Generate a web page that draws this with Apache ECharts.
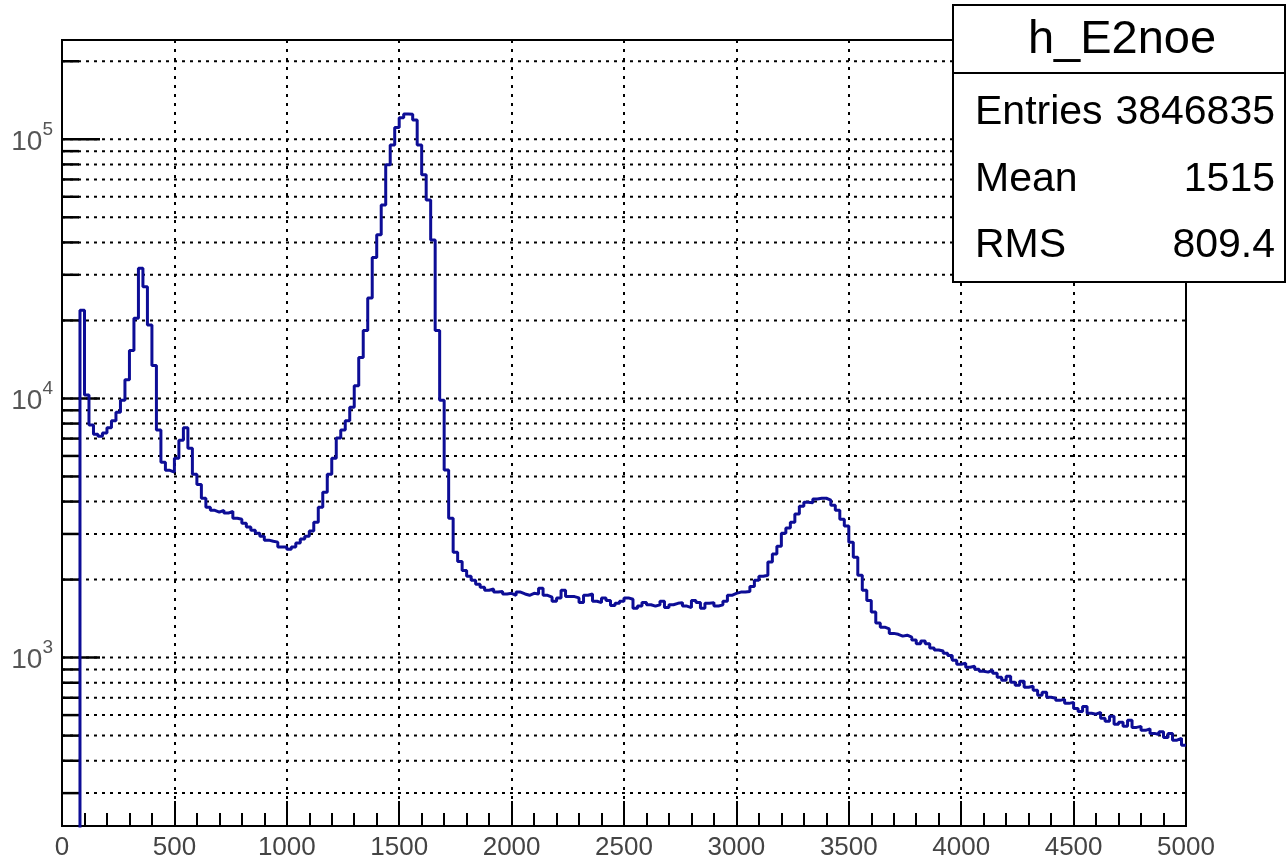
<!DOCTYPE html>
<html>
<head>
<meta charset="utf-8">
<title>h_E2noe</title>
<script src="https://cdn.jsdelivr.net/npm/echarts@6/dist/echarts.min.js"></script>
<style>
  html, body { margin: 0; padding: 0; background: #fff; }
  #chart { width: 1286px; height: 861px; }
</style>
</head>
<body>
<div id="chart"></div>
<script>
// histogram h_E2noe: 250 bins of width 20 from 0 to 5000 (counts per bin)
const BIN_WIDTH = 20;
const counts = [
  0, 0, 0, 0, 21900, 10300, 7900, 7280, 7150, 7350,
  7700, 8200, 8850, 9850, 11800, 15300, 20400, 31800, 27000, 19200,
  13400, 7550, 5670, 5280, 5200, 5880, 6900, 7700, 6430, 5100,
  4660, 4120, 3800, 3700, 3640, 3700, 3610, 3670, 3450, 3420,
  3300, 3190, 3100, 3020, 2940, 2840, 2810, 2790, 2670, 2670,
  2620, 2670, 2770, 2870, 2940, 3080, 3330, 3800, 4350, 5100,
  5880, 7030, 7550, 8200, 9240, 11200, 14400, 18300, 24400, 35000,
  42800, 55800, 79700, 95000, 111000, 121000, 125300, 125000, 118700, 95000,
  72900, 58300, 40900, 18300, 9850, 5300, 3450, 2550, 2350, 2170,
  2060, 1990, 1920, 1870, 1820, 1840, 1790, 1800, 1760, 1770,
  1740, 1790, 1760, 1740, 1770, 1760, 1850, 1740, 1710, 1650,
  1700, 1820, 1720, 1720, 1700, 1630, 1740, 1760, 1650, 1630,
  1700, 1660, 1590, 1620, 1650, 1700, 1680, 1550, 1580, 1630,
  1600, 1580, 1600, 1650, 1560, 1600, 1620, 1630, 1580, 1560,
  1660, 1630, 1550, 1620, 1630, 1580, 1600, 1650, 1740, 1770,
  1790, 1790, 1800, 1880, 1990, 2060, 2080, 2340, 2510, 2690,
  3020, 3160, 3330, 3580, 3840, 3980, 3960, 4090, 4120, 4120,
  4050, 3870, 3700, 3420, 3220, 2790, 2440, 2080, 1820, 1660,
  1500, 1360, 1310, 1290, 1240, 1230, 1210, 1220, 1200, 1170,
  1130, 1160, 1130, 1090, 1070, 1060, 1040, 1020, 976, 943,
  951, 918, 926, 902, 886, 879, 894, 871, 840, 818,
  848, 803, 782, 810, 768, 775, 748, 716, 735, 703,
  697, 684, 690, 666, 672, 636, 620, 648, 610, 605,
  615, 583, 568, 594, 553, 563, 543, 573, 538, 543,
  524, 531, 510, 505, 517, 492, 510, 480, 488, 459
];

// log y axis: major ticks (labelled) and minor ticks (2..9 x 10^n) with dotted grid
const yMajorTicks = [1000, 10000, 100000];
const yMinorTicks = [
  300, 400, 500, 600, 700, 800, 900,
  2000, 3000, 4000, 5000, 6000, 7000, 8000, 9000,
  20000, 30000, 40000, 50000, 60000, 70000, 80000, 90000,
  200000
];

// stats box
const statsName = 'h_E2noe';
const statsLabels = ['Entries', 'Mean', 'RMS'];
const statsValues = ['3846835', '1515', '809.4'];

const AXIS_FONT = "'Liberation Sans', Arial, sans-serif";
const BOX_FONT = "'Liberation Sans', Arial, sans-serif";

// ROOT draws empty bins on the frame bottom; push them below the log range
const histData = counts.map((c, i) => [i * BIN_WIDTH, c > 0 ? c : 1]);
histData.push([counts.length * BIN_WIDTH, counts[counts.length - 1]]);

const yTickData = yMajorTicks.map((v) => [0, v, 1])
  .concat(yMinorTicks.map((v) => [0, v, 0]));

const chart = echarts.init(document.getElementById('chart'));

// stats box built from the arrays above
const boxX = 953, boxY = 5, boxW = 332, boxH = 277, headH = 68;
const rowY = [113, 180, 246];
const statsGraphics = [
  {
    type: 'rect', z: 100,
    shape: { x: boxX, y: boxY, width: boxW, height: boxH },
    style: { fill: '#fff', stroke: '#000', lineWidth: 2 },
  },
  {
    type: 'line', z: 101,
    shape: { x1: boxX, y1: boxY + headH, x2: boxX + boxW, y2: boxY + headH },
    style: { stroke: '#000', lineWidth: 2 },
  },
  {
    type: 'text', z: 101,
    x: boxX + boxW / 2 + 3, y: 40,
    style: {
      text: statsName, fill: '#000', font: `47px ${BOX_FONT}`,
      align: 'center', verticalAlign: 'middle',
    },
  },
];
statsLabels.forEach((label, i) => {
  statsGraphics.push({
    type: 'text', z: 101, x: boxX + 22, y: rowY[i],
    style: { text: label, fill: '#000', font: `41px ${BOX_FONT}`, align: 'left', verticalAlign: 'middle' },
  });
  statsGraphics.push({
    type: 'text', z: 101, x: boxX + boxW - 10, y: rowY[i],
    style: { text: statsValues[i], fill: '#000', font: `41px ${BOX_FONT}`, align: 'right', verticalAlign: 'middle' },
  });
});

const option = {
  animation: false,
  backgroundColor: '#fff',
  grid: {
    left: 62,
    right: 100,
    top: 40,
    bottom: 35,
    show: true,
    borderColor: '#000',
    borderWidth: 2,
  },
  xAxis: {
    type: 'value',
    min: 0,
    max: 5000,
    interval: 500,
    axisLine: { show: true, onZero: false, lineStyle: { color: '#000', width: 2 } },
    axisTick: { show: true, inside: true, length: 25, lineStyle: { color: '#000', width: 2 } },
    minorTick: { show: true, splitNumber: 5, length: 13, lineStyle: { color: '#000', width: 2 } },
    splitLine: {
      show: true,
      showMinLine: false,
      showMaxLine: false,
      lineStyle: { color: '#000', width: 2, type: [3, 6] },
    },
    axisLabel: {
      margin: 9,
      fontSize: 26,
      fontFamily: AXIS_FONT,
      color: '#444',
      formatter: (v) => String(v),
    },
  },
  yAxis: {
    type: 'log',
    logBase: 10,
    min: 224,
    max: 241600,
    axisLine: { show: true, onZero: false, lineStyle: { color: '#000', width: 2 } },
    axisTick: { show: false },
    minorTick: { show: false },
    splitLine: { show: false },
    axisLabel: {
      margin: 9,
      formatter: (v) => {
        const e = Math.log10(v);
        if (!yMajorTicks.some((t) => Math.abs(Math.log10(t) - e) < 1e-6)) return '';
        return `{b|10}{e|${Math.round(e)}}`;
      },
      rich: {
        b: { fontSize: 28, fontFamily: AXIS_FONT, color: '#555', padding: [6, 0, 0, 0] },
        e: { fontSize: 19, fontFamily: AXIS_FONT, color: '#555', padding: [0, 0, 20, 0] },
      },
    },
  },
  graphic: statsGraphics,
  series: [
    {
      // y ticks and dotted grid at every decade subdivision
      type: 'custom',
      silent: true,
      z: 1,
      data: yTickData,
      renderItem: (params, api) => {
        const cs = params.coordSys;
        const y = api.coord([0, api.value(1)])[1];
        const len = api.value(2) ? 38 : 17;
        return {
          type: 'group',
          children: [
            {
              type: 'line',
              shape: { x1: cs.x, y1: y, x2: cs.x + cs.width, y2: y },
              style: { stroke: '#000', lineWidth: 2, lineDash: [3, 5] },
            },
            {
              type: 'line',
              shape: { x1: cs.x, y1: y, x2: cs.x + len, y2: y },
              style: { stroke: '#000', lineWidth: 2.5 },
            },
          ],
        };
      },
    },
    {
      name: statsName,
      type: 'line',
      step: 'end',
      data: histData,
      showSymbol: false,
      symbol: 'none',
      clip: true,
      z: 5,
      lineStyle: { color: '#0d0d96', width: 3 },
    },
  ],
};

chart.setOption(option);
</script>
</body>
</html>
